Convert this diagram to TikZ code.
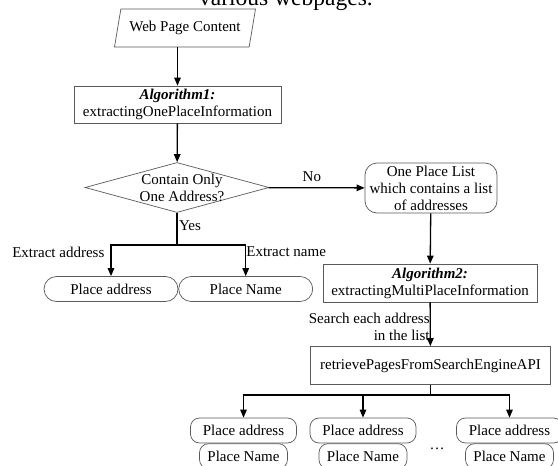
\documentclass[tikz,border=0pt]{standalone}
\usepackage{fontspec}
\setmainfont{Liberation Serif}
\usepackage{tikz}
\usetikzlibrary{shapes.geometric, shapes.misc, arrows.meta, positioning}
\definecolor{edgegray}{RGB}{90, 90, 90}
\newcommand{\flowfont}{\fontsize{15}{17}\selectfont}

\begin{document}
\begin{tikzpicture}[
    x=1pt, y=-1pt,
    base/.style={draw=edgegray, line width=0.7pt, fill=white, inner sep=0pt, align=center, font=\flowfont},
    process/.style={base, rectangle, minimum height=38pt},
    inputbox/.style={base, trapezium, trapezium left angle=65, trapezium right angle=115, trapezium stretches body, minimum width=141pt, minimum height=38pt},
    decision/.style={base, diamond, minimum width=184pt, minimum height=50pt},
    roundbox/.style={base, rectangle, rounded corners=12pt},
    result/.style={base, rounded rectangle, minimum width=134pt, minimum height=25pt},
    smallresult/.style={base, rectangle, rounded corners=9pt, minimum height=25pt},
    arrow/.style={-{Triangle[length=8pt, width=6.5pt]}, line width=1.3pt, black},
    link/.style={line width=1.3pt, black},
    tag/.style={font=\flowfont, inner sep=1.5pt}
]
\useasboundingbox (0,0) rectangle (558,466);

% Caption line cut by the top edge
\node[tag, anchor=base, font=\fontsize{23.5}{26}\selectfont] (caption) at (286,5) {various webpages.};

% Single place branch
\node[inputbox] (web) at (185,28) {Web Page Content};
\node[process, minimum width=207pt, minimum height=37pt] (alg1) at (177.5,104.5) {\textbf{\textit{Algorithm1:}}\\extractingOnePlaceInformation};
\node[decision] (decide) at (177,187.5) {};
\node[tag, align=center] (decidetext) at ([xshift=5pt]decide.center) {Contain Only\\One Address?};
\node[result] (paddr) at (111,289) {Place address};
\node[result, right=0pt of paddr] (pname) {Place Name};

% Multi place branch
\node[roundbox, minimum width=132pt, minimum height=50pt] (oneplace) at (431,188) {One Place List\\which contains a list\\of addresses};
\node[process, minimum width=214pt] (alg2) at (430,283) {\textbf{\textit{Algorithm2:}}\\extractingMultiPlaceInformation};
\node[process, minimum width=240pt] (retrieve) at (430.5,365.5) {retrievePagesFromSearchEngineAPI};

% Results per address
\node[smallresult, minimum width=106pt] (addr1) at (243.5,430.5) {Place address};
\node[smallresult, minimum width=88pt, below=0pt of addr1] (name1) {Place Name};
\node[smallresult, minimum width=106pt] (addr2) at (363,430.5) {Place address};
\node[smallresult, minimum width=88pt, below=0pt of addr2] (name2) {Place Name};
\node[smallresult, minimum width=106pt] (addr3) at (509.5,430.5) {Place address};
\node[smallresult, minimum width=88pt, below=0pt of addr3] (name3) {Place Name};
\node[tag, anchor=base] (more) at (437,449) {\dots};

% Connections
\draw[arrow] (web.south -| alg1.north) -- (alg1.north);
\draw[arrow] (alg1) -- (decide);
\draw[arrow] (decide) -- node[tag, above=4pt, pos=0.45] {No} (oneplace);
\coordinate (yessplit) at (177,245);
\draw[link] (decide.south) -- node[tag, right, pos=0.4] {Yes} (yessplit);
\draw[arrow] (yessplit) -| node[tag, pos=0.5, anchor=north east, inner xsep=6pt] {Extract address} (paddr);
\draw[arrow] (yessplit) -| node[tag, pos=0.5, anchor=north west, inner xsep=0pt] {Extract name} (pname);
\draw[arrow] (oneplace) -- (alg2);
\draw[arrow] (alg2) -- node[tag, left, align=right, pos=0.55, inner xsep=0pt] {Search each address\\in the list} (retrieve);
\coordinate (searchsplit) at (430.5,395);
\draw[link] (retrieve) -- (searchsplit);
\foreach \target in {addr1, addr2, addr3}
    \draw[arrow] (searchsplit) -| (\target);
\end{tikzpicture}
\end{document}
